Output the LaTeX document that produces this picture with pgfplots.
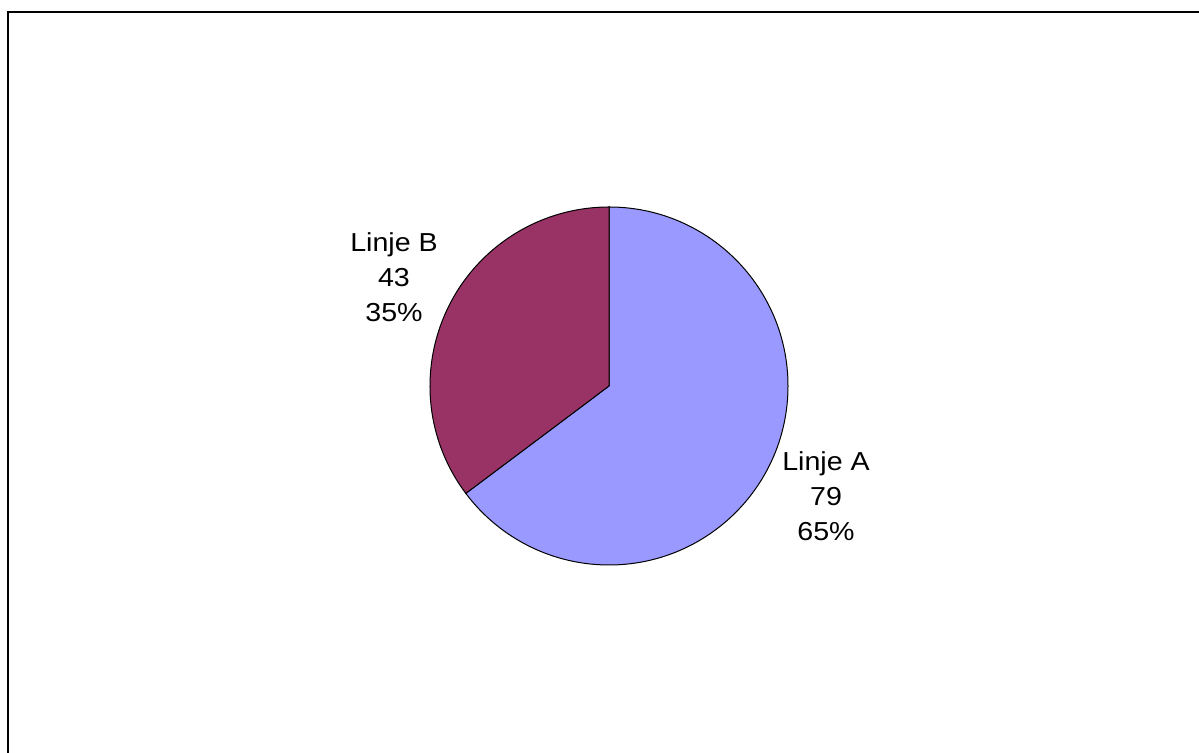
\documentclass[border=0pt]{standalone}
\usepackage{pgfplots}
\pgfplotsset{compat=1.18}
\usepackage{pgfplotstable}
\usepackage{fontspec}
\setmainfont{Liberation Sans}

\definecolor{sliceA}{HTML}{9999FF}
\definecolor{sliceB}{HTML}{993366}

% Passengers per line
\pgfplotstableread{
name    value
{Linje A} 79
{Linje B} 43
}\piedata

\begin{document}
\begin{tikzpicture}
\pgfplotstablegetelem{0}{value}\of\piedata \let\valA\pgfplotsretval
\pgfplotstablegetelem{1}{value}\of\piedata \let\valB\pgfplotsretval
\pgfmathsetmacro{\total}{\valA+\valB}
\pgfmathsetmacro{\fracA}{\valA/\total}
\pgfmathsetmacro{\fracB}{\valB/\total}
\pgfmathsetmacro{\angA}{360*\fracA}
\pgfmathsetmacro{\endA}{90-\angA}
\pgfmathtruncatemacro{\pctA}{round(100*\fracA)}
\pgfmathtruncatemacro{\pctB}{round(100*\fracB)}
\pgfmathtruncatemacro{\nA}{\valA}
\pgfmathtruncatemacro{\nB}{\valB}
\begin{axis}[
  scale only axis,
  width=599.5pt, height=376.5pt,
  xmin=0, xmax=1199, ymin=0, ymax=753,
  axis lines=none,
  ticks=none,
]
  % page extent
  \path (axis cs:0,0) rectangle (axis cs:1199,753);
  % frame (only the top and left edges fall inside the page)
  \draw[line width=1pt, line cap=butt] (axis cs:8,0) -- (axis cs:8,741) -- (axis cs:1199,741);
  % slices, clockwise from twelve o'clock
  \filldraw[fill=sliceA, draw=black, line width=0.5pt]
    (axis cs:609,367) -- ++(90:89.5pt) arc[start angle=90, end angle=\endA, radius=89.5pt] -- cycle;
  \filldraw[fill=sliceB, draw=black, line width=0.5pt]
    (axis cs:609,367) -- ++(\endA:89.5pt) arc[start angle=\endA, end angle=-270, radius=89.5pt] -- cycle;
  % labels
  \node[align=center, xscale=1.1, font=\fontsize{13}{17.5}\selectfont]
    at (axis cs:394,476) {Linje B\\\nB\\\pctB\%};
  \node[align=center, xscale=1.1, font=\fontsize{13}{17.5}\selectfont]
    at (axis cs:826,257) {Linje A\\\nA\\\pctA\%};
\end{axis}
\end{tikzpicture}
\end{document}
